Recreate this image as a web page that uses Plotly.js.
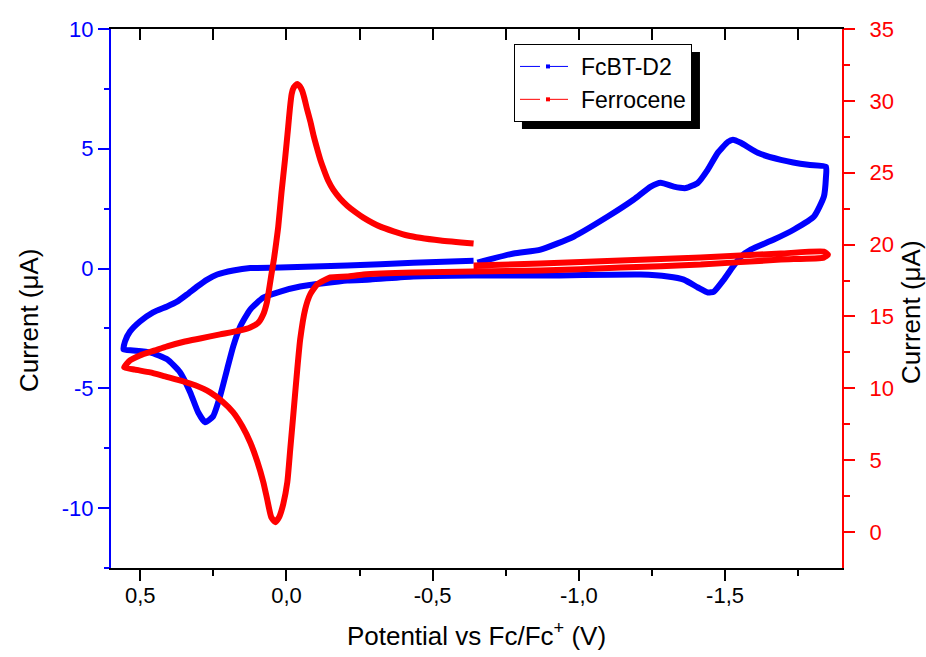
<!DOCTYPE html>
<html>
<head>
<meta charset="utf-8">
<script src="https://cdn.plot.ly/plotly-3.0.1.min.js"></script>
<style>
  html, body { margin: 0; padding: 0; background: #fff; }
  #chart { width: 926px; height: 657px; }
</style>
</head>
<body>
<div id="chart"></div>
<script>
// Cyclic voltammograms: potential (V vs Fc/Fc+) and current (µA)
const fcbtPotential = [-0.640,-0.434,-0.208,0.021,0.124,0.182,0.237,0.271,0.305,0.340,
  0.374,0.408,0.456,0.501,0.535,0.552,0.557,0.525,0.466,0.408,
  0.364,0.329,0.302,0.278,0.251,0.227,0.203,0.182,0.158,0.124,
  0.079,0.021,-0.047,-0.208,-0.287,-0.434,-0.640,-0.869,-1.212,-1.304,
  -1.359,-1.407,-1.441,-1.462,-1.496,-1.520,-1.554,-1.588,-1.667,-1.736,
  -1.804,-1.838,-1.845,-1.845,-1.784,-1.691,-1.612,-1.554,-1.527,-1.510,
  -1.475,-1.441,-1.407,-1.366,-1.325,-1.280,-1.246,-1.188,-1.099,-0.982,
  -0.869,-0.777,-0.653];
const fcbtCurrent = [0.33,0.24,0.13,0.04,0.02,-0.08,-0.25,-0.46,-0.75,-1.08,
  -1.38,-1.58,-1.83,-2.21,-2.63,-3.04,-3.38,-3.42,-3.50,-3.79,
  -4.33,-5.17,-6.00,-6.42,-6.17,-5.33,-4.21,-3.25,-2.42,-1.71,
  -1.21,-0.96,-0.75,-0.50,-0.46,-0.33,-0.29,-0.29,-0.25,-0.33,
  -0.46,-0.79,-1.00,-0.96,-0.46,-0.04,0.50,0.79,1.21,1.63,
  2.17,3.00,3.79,4.25,4.33,4.54,4.83,5.25,5.38,5.29,
  4.83,4.13,3.58,3.36,3.42,3.58,3.42,2.88,2.17,1.33,
  0.79,0.63,0.25];

const ferrocenePotential = [-0.640,-0.869,-1.143,-1.417,-1.691,-1.838,-1.852,-1.838,-1.691,-1.417,
  -1.143,-0.869,-0.640,-0.434,-0.263,-0.208,-0.150,-0.105,-0.081,-0.064,
  -0.047,-0.037,-0.023,-0.013,-0.003,0.011,0.025,0.038,0.052,0.066,
  0.079,0.100,0.124,0.151,0.182,0.220,0.261,0.312,0.353,0.415,
  0.466,0.518,0.555,0.535,0.501,0.449,0.408,0.347,0.295,0.227,
  0.158,0.124,0.097,0.078,0.067,0.061,0.052,0.043,0.035,0.028,
  0.017,0.005,-0.006,-0.012,-0.018,-0.025,-0.037,-0.046,-0.054,-0.061,
  -0.071,-0.082,-0.093,-0.105,-0.116,-0.128,-0.143,-0.160,-0.184,-0.208,
  -0.236,-0.263,-0.321,-0.414,-0.527,-0.640];
const ferroceneCurrent = [18.54,18.68,18.89,19.10,19.38,19.51,19.30,19.10,18.96,18.61,
  18.40,18.19,18.13,18.06,17.92,17.78,17.71,17.22,16.53,15.49,
  13.40,11.32,8.06,5.76,3.47,1.94,1.04,0.69,1.04,2.29,
  3.47,4.93,6.25,7.36,8.33,9.10,9.72,10.21,10.49,10.83,
  11.11,11.30,11.46,11.94,12.29,12.64,12.92,13.26,13.47,13.75,
  14.03,14.24,14.55,15.21,15.97,16.67,17.85,18.96,20.14,21.25,
  23.61,25.90,28.19,29.51,30.49,30.94,31.18,31.01,30.69,30.21,
  29.38,28.54,27.57,26.67,25.90,25.21,24.44,23.82,23.19,22.71,
  22.26,21.88,21.25,20.63,20.28,20.07];

const seriesNames = ['FcBT-D2', 'Ferrocene'];
const xTitle = 'Potential vs Fc/Fc<sup>+</sup> (V)';
const yTitle = 'Current (μA)';

// Axis ticks
const xTickVals = [0.5, 0, -0.5, -1, -1.5];
const xTickText = ['0,5', '0,0', '-0,5', '-1,0', '-1,5'];
const xMinorVals = [0.25, -0.25, -0.75, -1.25, -1.75];
const xTopTickVals = [0.5, 0.25, 0, -0.25, -0.5, -0.75, -1, -1.25, -1.5, -1.75];
const leftTickVals = [10, 5, 0, -5, -10];
const leftTickText = ['10', '5', '0', '-5', '-10'];
const leftMinorVals = [7.5, 2.5, -2.5, -7.5, -12.5];
const rightTickVals = [0, 5, 10, 15, 20, 25, 30, 35];
const rightTickText = ['0', '5', '10', '15', '20', '25', '30', '35'];
const rightMinorVals = [2.5, 7.5, 12.5, 17.5, 22.5, 27.5, 32.5];

const BLUE = '#0000ff';
const RED = '#ff0000';
const FONT = 'Arial, "Liberation Sans", Helvetica, sans-serif';

const traces = [
  {
    x: fcbtPotential, y: fcbtCurrent, xaxis: 'x', yaxis: 'y',
    mode: 'lines', line: { color: BLUE, width: 6, shape: 'spline', smoothing: 0.5 },
    showlegend: false, hoverinfo: 'skip'
  },
  {
    x: ferrocenePotential, y: ferroceneCurrent, xaxis: 'x', yaxis: 'y2',
    mode: 'lines', line: { color: RED, width: 6, shape: 'spline', smoothing: 0.5 },
    showlegend: false, hoverinfo: 'skip'
  },
  // legend keys
  {
    x: [null], y: [null], name: seriesNames[0], xaxis: 'x', yaxis: 'y',
    mode: 'lines+markers', line: { color: BLUE, width: 1, dash: '20px,8px' },
    marker: { symbol: 'square', size: 4, color: BLUE }
  },
  {
    x: [null], y: [null], name: seriesNames[1], xaxis: 'x', yaxis: 'y2',
    mode: 'lines+markers', line: { color: RED, width: 1, dash: '20px,8px' },
    marker: { symbol: 'square', size: 4, color: RED }
  },
  // top frame axis
  { x: [], y: [], xaxis: 'x2', yaxis: 'y', showlegend: false, hoverinfo: 'skip' }
];

const layout = {
  width: 926, height: 657,
  margin: { l: 111, r: 84, t: 29, b: 89, pad: 0 },
  paper_bgcolor: '#ffffff', plot_bgcolor: '#ffffff',
  font: { family: FONT, size: 22, color: '#000' },
  showlegend: true,
  legend: {
    x: 0.5513, y: 0.9722, xanchor: 'left', yanchor: 'top',
    bgcolor: '#ffffff', bordercolor: '#000', borderwidth: 1,
    font: { family: FONT, size: 23, color: '#000' },
    itemwidth: 56, tracegroupgap: 0
  },
  xaxis: {
    range: [0.6, -1.9], autorange: false,
    showline: true, linecolor: '#000', linewidth: 2,
    ticks: 'outside', ticklen: 11, tickwidth: 2, tickcolor: '#000',
    tickmode: 'array', tickvals: xTickVals, ticktext: xTickText,
    tickfont: { family: FONT, size: 22, color: '#000' },
    ticklabelstandoff: -4,
    minor: { tickmode: 'array', tickvals: xMinorVals, ticks: 'outside', ticklen: 6, tickwidth: 2, tickcolor: '#000', showgrid: false },
    showgrid: false, zeroline: false,
    title: { text: xTitle, font: { family: FONT, size: 26, color: '#000' }, standoff: 19 }
  },
  xaxis2: {
    overlaying: 'x', side: 'top', anchor: 'y',
    range: [0.6, -1.9], autorange: false,
    showline: true, linecolor: '#000', linewidth: 2,
    ticks: 'inside', ticklen: 11, tickwidth: 2, tickcolor: '#000',
    tickmode: 'array', tickvals: xTopTickVals, showticklabels: false,
    showgrid: false, zeroline: false
  },
  yaxis: {
    range: [-12.5, 10], autorange: false,
    showline: true, linecolor: BLUE, linewidth: 2,
    ticks: 'outside', ticklen: 11, tickwidth: 2, tickcolor: BLUE,
    tickmode: 'array', tickvals: leftTickVals, ticktext: leftTickText,
    tickfont: { family: FONT, size: 22, color: BLUE },
    minor: { tickmode: 'array', tickvals: leftMinorVals, ticks: 'outside', ticklen: 5, tickwidth: 2, tickcolor: BLUE, showgrid: false },
    showgrid: false, zeroline: false
  },
  yaxis2: {
    overlaying: 'y', side: 'right', anchor: 'x',
    range: [-2.5, 35], autorange: false,
    showline: true, linecolor: RED, linewidth: 2,
    ticks: 'outside', ticklen: 11, tickwidth: 2, tickcolor: RED,
    tickmode: 'array', tickvals: rightTickVals, ticktext: rightTickText,
    tickfont: { family: FONT, size: 22, color: RED },
    ticklabelstandoff: 10,
    minor: { tickmode: 'array', tickvals: rightMinorVals, ticks: 'outside', ticklen: 6, tickwidth: 2, tickcolor: RED, showgrid: false },
    showgrid: false, zeroline: false
  },
  annotations: [
    // y-axis titles, both reading bottom to top
    { text: yTitle, textangle: -90, xref: 'paper', yref: 'paper', x: 0, y: 0.460,
      xanchor: 'center', yanchor: 'middle', xshift: -82, showarrow: false,
      font: { family: FONT, size: 26, color: '#000' } },
    { text: yTitle, textangle: -90, xref: 'paper', yref: 'paper', x: 1, y: 0.475,
      xanchor: 'center', yanchor: 'middle', xshift: 69, showarrow: false,
      font: { family: FONT, size: 26, color: '#000' } }
  ],
  shapes: [
    // drop shadow behind the legend box
    { type: 'rect', xref: 'paper', yref: 'paper', x0: 0.5622, x1: 0.8057, y0: 0.8145, y1: 0.9573,
      fillcolor: '#000', line: { width: 0 }, layer: 'above' }
  ]
};

Plotly.newPlot('chart', traces, layout, { staticPlot: true, displayModeBar: false });
</script>
</body>
</html>
